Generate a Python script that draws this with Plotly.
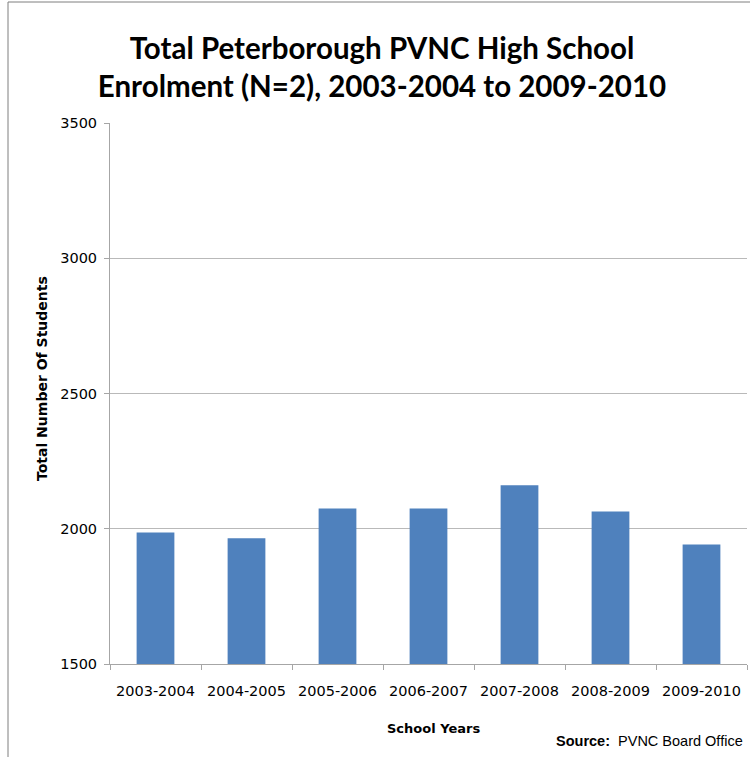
import plotly.graph_objects as go

school_years = ["2003-2004", "2004-2005", "2005-2006", "2006-2007",
                "2007-2008", "2008-2009", "2009-2010"]
students = [1986, 1965, 2075, 2075, 2161, 2064, 1942]

W, H = 750, 757
L, R, T, B = 110, 3, 123, 93
pw, ph = W - L - R, H - T - B

def px(x):
    return (x - L) / pw

def py(y):
    return (H - B - y) / ph

TITLE_FONT = "Lato, 'Open Sans', sans-serif"
TICK_FONT = "'DejaVu Sans', sans-serif"
SRC_FONT = "'Liberation Sans', Arial, sans-serif"

fig = go.Figure(go.Bar(
    x=school_years, y=students,
    marker=dict(color="#4F81BD", line=dict(width=0)),
    width=0.415,
))

fig.update_layout(
    width=W, height=H,
    margin=dict(l=L, r=R, t=T, b=B),
    paper_bgcolor="white", plot_bgcolor="white",
    showlegend=False,
    font=dict(family=TICK_FONT, size=14, color="black"),
    title=dict(
        text="<b>Total Peterborough PVNC High School<br>Enrolment (N=2), 2003-2004 to 2009-2010</b>",
        font=dict(family=TITLE_FONT, size=29.5, color="black"),
        x=382 / W, xanchor="center", y=1 - 59 / H, yanchor="middle",
    ),
    xaxis=dict(
        type="category",
        showline=True, linecolor="#A6A6A6", linewidth=1,
        ticks="outside", tickson="boundaries", ticklen=5, tickcolor="#A6A6A6",
        showgrid=False,
        tickfont=dict(family=TICK_FONT, size=14.5),
        ticklabelstandoff=14,
    ),
    yaxis=dict(
        range=[1500, 3500], dtick=500,
        showline=True, linecolor="#A6A6A6", linewidth=1,
        ticks="outside", ticklen=5, tickcolor="#A6A6A6",
        showgrid=True, gridcolor="#B9B9B9", gridwidth=1,
        tickfont=dict(family=TICK_FONT, size=14.5),
        ticklabelstandoff=4,
    ),
    annotations=[
        dict(text="<b>School Years</b>", xref="paper", yref="paper",
             x=px(433), y=py(728), xanchor="center", yanchor="middle",
             showarrow=False, font=dict(family=TICK_FONT, size=13)),
        dict(text="<b>Total Number Of Students</b>", xref="paper", yref="paper",
             x=px(42), y=py(379), xanchor="center", yanchor="middle",
             textangle=-90, showarrow=False, font=dict(family=TICK_FONT, size=14)),
        dict(text="<b>Source:</b>  PVNC Board Office", xref="paper", yref="paper",
             x=px(745), y=py(741), xanchor="right", yanchor="middle",
             showarrow=False, font=dict(family=SRC_FONT, size=14.5)),
    ],
    shapes=[
        dict(type="line", xref="paper", yref="paper",
             x0=px(8), x1=px(8), y0=py(2), y1=py(H + 5),
             line=dict(color="#7F7F7F", width=1)),
        dict(type="line", xref="paper", yref="paper",
             x0=px(8), x1=px(W + 5), y0=py(2), y1=py(2),
             line=dict(color="#7F7F7F", width=1)),
    ],
)

fig.write_html(
    "out.html",
    config={"displayModeBar": False},
    post_script="document.body.style.margin='0';document.body.style.overflow='hidden';",
)
